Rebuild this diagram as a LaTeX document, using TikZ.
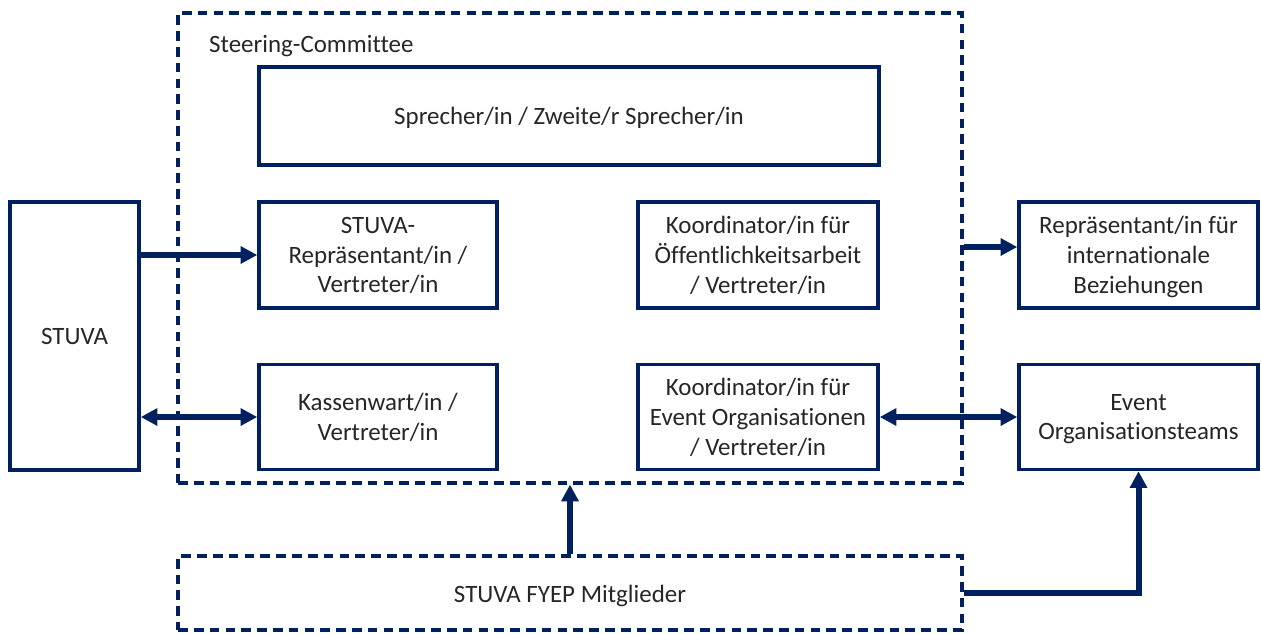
\documentclass[tikz,border=0pt]{standalone}
\usepackage{fontspec}
\setmainfont{Carlito}[Ligatures=NoCommon]
\usetikzlibrary{arrows.meta,positioning}
\definecolor{navy}{HTML}{002060}

\begin{document}
\begin{tikzpicture}[
  x=0.02cm, y=-0.02cm,
  font=\fontsize{14.2}{17}\selectfont,
  unit/.style = {rectangle, draw=navy, line width=2pt, fill=white,
                 inner sep=2pt, align=center, text=black!85, text depth=0pt},
  group/.style = {rectangle, draw=navy, line width=1.9pt,
                  dash pattern=on 5.5pt off 3.5pt, inner sep=0pt},
  flow/.style = {-{Triangle[length=9.5pt,width=9.5pt]}, draw=navy, line width=3.4pt},
  both/.style = {{Triangle[length=9.5pt,width=9.5pt]}-{Triangle[length=9.5pt,width=9.5pt]},
                 draw=navy, line width=3.4pt}
]
\useasboundingbox (0,0) rectangle (1261,633);

% Steering-Committee frame and the members pool below it
\node[group, minimum width=15.68cm, minimum height=9.4cm] (steer) at (570,248) {};
\node[anchor=west, text=black!85] (steerlabel) at (203,46) {Steering-Committee};
\node[group, minimum width=15.68cm, minimum height=1.48cm] (fyep) at (570,593) {};
\node[text=black!85] (fyeptext) at ([yshift=-0.06cm]fyep.center) {STUVA FYEP Mitglieder};

% Boxes inside the committee
\node[unit, minimum width=12.4cm, minimum height=1.96cm] (spr) at (569,116)
  {Sprecher/in / Zweite/r Sprecher/in};
\node[unit, minimum width=4.76cm, minimum height=2.12cm] (rep) at (378,255)
  {STUVA-\\Repräsentant/in /\\Vertreter/in};
\node[unit, minimum width=4.8cm, minimum height=2.12cm] (oeff) at (758,255)
  {Koordinator/in für\\Öffentlichkeitsarbeit\\/ Vertreter/in};
\node[unit, minimum width=4.76cm, minimum height=2.1cm] (kasse) at (378,417)
  {Kassenwart/in /\\Vertreter/in};
\node[unit, minimum width=4.8cm, minimum height=2.1cm] (event) at (758,417)
  {Koordinator/in für\\Event Organisationen\\/ Vertreter/in};

% Outside boxes
\node[unit, minimum width=2.58cm, minimum height=5.36cm] (stuva) at (74.5,336) {STUVA};
\node[unit, minimum width=4.78cm, minimum height=2.12cm] (intl) at (1138.5,255)
  {Repräsentant/in für\\internationale\\Beziehungen};
\node[unit, minimum width=4.78cm, minimum height=2.1cm] (teams) at (1138.5,417)
  {Event\\Organisationsteams};

% Connectors
\draw[flow] (stuva.east |- rep.west) -- (rep.west);
\draw[both] (stuva.east |- kasse.west) -- (kasse.west);
\draw[both] (event.east) -- (teams.west);
\draw[flow] ([yshift=0.16cm]steer.east |- intl.west) -- ([yshift=0.16cm]intl.west);
\draw[flow] (fyep.north) -- (steer.south);
\draw[flow] (fyep.east) -| (teams.south);

\end{tikzpicture}
\end{document}
